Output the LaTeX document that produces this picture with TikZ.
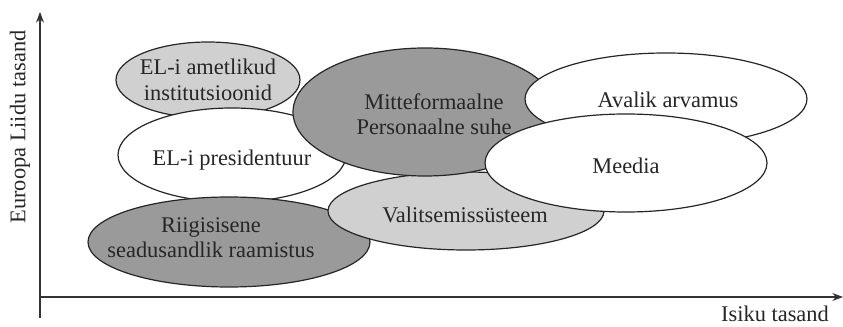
\documentclass[tikz,border=0pt]{standalone}
\usepackage{fontspec}
\setmainfont{Liberation Serif}
\usetikzlibrary{shapes.geometric,arrows.meta}
\definecolor{lightg}{HTML}{D0D0D0}
\definecolor{darkg}{HTML}{9A9A9A}
\tikzset{
  ell/.style={ellipse, draw=black!85, line width=0.9pt, inner sep=0pt},
  txt/.style={align=center, font=\fontsize{16.8}{19}\selectfont, inner sep=0pt, text=black!85},
  axis/.style={line width=0.9pt, draw=black!80, -{Stealth[length=8pt,width=6pt]}},
}
\begin{document}
\begin{tikzpicture}[x=0.75pt,y=-0.75pt]
\useasboundingbox (0,0) rectangle (843,327);
% axes
\coordinate (ybot) at (40,318);
\coordinate (ytop) at (40,12);
\coordinate (xl) at (40,297);
\coordinate (xr) at (843,297);
\draw[axis] (ybot) -- (ytop);
\draw[axis] (xl) -- (xr);
% ellipses
\node[ell, fill=lightg, minimum width=184*0.75pt, minimum height=76*0.75pt] (e1) at (208,80) {};
\node[ell, fill=white, minimum width=228*0.75pt, minimum height=94*0.75pt] (e2) at (232,155) {};
\node[ell, fill=darkg, minimum width=282*0.75pt, minimum height=90*0.75pt] (e3) at (229,242) {};
\node[ell, fill=lightg, minimum width=276*0.75pt, minimum height=78*0.75pt] (e5) at (466,211) {};
\node[ell, fill=darkg, minimum width=264*0.75pt, minimum height=128*0.75pt] (e4) at (425,112) {};
\node[ell, fill=white, minimum width=282*0.75pt, minimum height=92*0.75pt] (e6) at (666,99) {};
\node[ell, fill=white, minimum width=282*0.75pt, minimum height=98*0.75pt] (e7) at (626,163) {};
% texts
\node[txt] (t1) at (208,80) {EL-i ametlikud\\institutsioonid};
\node[txt] (t2) at (232,160) {EL-i presidentuur};
\node[txt] (t3) at (211,238) {Riigisisene\\seadusandlik raamistus};
\node[txt] (t4) at (434,114) {Mitteformaalne\\Personaalne suhe};
\node[txt] (t5) at (465,215) {Valitsemissüsteem};
\node[txt] (t6) at (668,100) {Avalik arvamus};
\node[txt] (t7) at (626,166) {Meedia};
\node[txt] (ax) at (775,314) {Isiku tasand};
\node[txt, rotate=90] (ay) at (20,127) {Euroopa Liidu tasand};
\end{tikzpicture}
\end{document}
